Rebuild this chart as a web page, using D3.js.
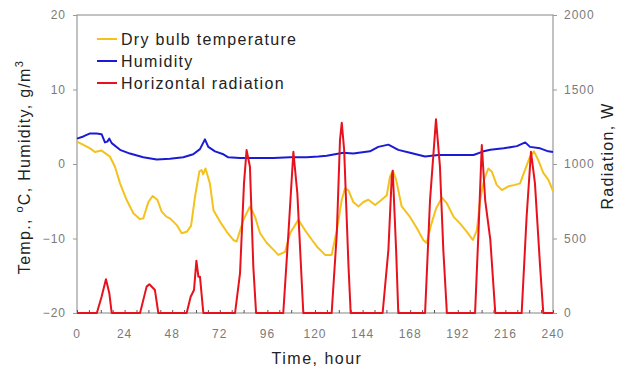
<!DOCTYPE html>
<html>
<head>
<meta charset="utf-8">
<script src="https://cdn.jsdelivr.net/npm/d3@7"></script>
<style>
  body { margin: 0; background: #fff; }
  svg { display: block; font-family: "Liberation Sans", Arial, sans-serif; }
</style>
</head>
<body>
<div id="chart"></div>
<script>
document.addEventListener('DOMContentLoaded', init, false);

const c_temp = "#f4c21c";
const c_hum = "#1b1bd6";
const c_rad = "#e8121c";

// dry bulb temperature, degC
const tempHours = [0, 3, 6.6, 9, 12.4, 14.5, 16.6, 19.2, 21.7, 25, 28.4, 31.8, 33.4, 36, 38.1, 40.5, 42.7, 45.2, 46.9, 50.3,
  52.8, 55.3, 57.5, 59.5, 61.7, 62.8, 63.6, 64.8, 67, 68.8, 72, 75.5, 78.8, 80.5, 83.9, 87.2, 89.8, 92.3, 95.7, 99,
  101.5, 104.9, 107.4, 111.6, 115, 118.5, 121, 125.1, 128.4, 131, 133.5, 135.1, 136.8, 139.3, 141.9, 144.4, 146.9, 150.3, 153.6, 156.2,
  157.8, 159.2, 160.9, 163.7, 167.9, 171.3, 174.6, 176.3, 178.5, 181, 184, 186.5, 189.9, 193.2, 196.6, 199.6, 201.6, 203.3, 205.3, 207.4,
  209.1, 211.6, 214.2, 217.5, 220.9, 223.4, 225.9, 228.4, 230.4, 232.6, 235.1, 237.6, 240];
const tempValues = [3.0, 2.6, 2.1, 1.6, 1.8, 1.4, 1.0, -0.4, -2.6, -4.8, -6.6, -7.4, -7.3, -5.1, -4.3, -4.8, -6.4, -7.1, -7.3, -8.2,
  -9.3, -9.1, -8.3, -4.4, -1.0, -0.8, -1.4, -0.6, -2.6, -6.2, -7.7, -9.1, -10.2, -10.4, -7.5, -5.7, -7.1, -9.3, -10.6, -11.5,
  -12.2, -11.8, -9.3, -7.5, -8.9, -10.2, -11.1, -12.2, -12.2, -8.9, -4.8, -3.3, -3.5, -5.1, -5.7, -5.1, -4.8, -5.5, -4.8, -4.2,
  -1.7, -0.9, -2.1, -5.7, -7.1, -8.6, -10.2, -10.6, -8.2, -6.0, -4.5, -5.3, -7.1, -8.0, -9.1, -10.2, -8.9, -4.8, -2.1, -0.6,
  -1.0, -2.8, -3.5, -3.0, -2.8, -2.6, -0.8, 1.0, 1.7, 0.5, -1.2, -2.1, -3.6];

// absolute humidity, g/m3
const humHours = [0, 3.2, 6.6, 9.9, 12.4, 14.1, 15.3, 16.3, 17.5, 21.7, 26.7, 33.4, 40.2, 46.9, 53.6, 58.6, 62, 64.5, 66.2, 69.6,
  73.8, 76.3, 82.2, 90.6, 99, 107.4, 115.8, 121.7, 125.9, 134.3, 139.3, 147.7, 151.9, 157, 162, 167.9, 175.5, 182.2, 188.2, 199.9,
  205, 208.4, 215.1, 221.8, 226, 228.4, 233.5, 237.6, 240];
const humValues = [3.4, 3.7, 4.1, 4.1, 4.0, 2.9, 3.0, 3.4, 2.8, 1.9, 1.4, 0.9, 0.6, 0.7, 0.9, 1.3, 2.0, 3.3, 2.3, 1.7,
  1.3, 0.9, 0.8, 0.8, 0.8, 0.9, 0.9, 1.0, 1.1, 1.5, 1.4, 1.7, 2.3, 2.6, 1.9, 1.5, 1.0, 1.2, 1.2, 1.2,
  1.7, 1.9, 2.1, 2.4, 2.9, 2.3, 2.1, 1.7, 1.6];

// horizontal radiation, W
const radHours = [0, 10, 12.4, 14.6, 16.3, 17.5, 31.8, 35.1, 36.5, 39.3, 41, 55.3, 57.3, 59, 60.2, 61.2, 62, 63.7,
  79.7, 82.2, 84.2, 85.5, 87.2, 88.9, 90.3, 104, 106.6, 109.1, 111.1, 114.1, 128.4, 131, 132.6, 133.5, 134.7, 136.9, 138,
  154.1, 157, 158.7, 159.2, 160.9, 162, 175.5, 178, 181, 183, 184.7, 186.5, 200.7, 202.4, 204.1, 205.8, 208.4, 210.9,
  224.2, 226.7, 228.9, 230.9, 233.5, 235.1, 240];
const radValues = [0, 0, 109, 226, 132, 0, 0, 177, 193, 154, 0, 0, 109, 154, 351, 244, 244, 0,
  0, 268, 870, 1094, 982, 311, 0, 0, 535, 1082, 803, 0, 0, 535, 1161, 1277, 1094, 311, 0,
  0, 423, 915, 955, 423, 0, 0, 758, 1300, 982, 423, 0, 0, 535, 1127, 758, 490, 0,
  0, 646, 1082, 870, 311, 0, 0];

const xTicks = [0, 24, 48, 72, 96, 120, 144, 168, 192, 216, 240];
const leftTicks = [-20, -10, 0, 10, 20];
const rightTicks = [0, 500, 1000, 1500, 2000];
const legendNames = ["Dry bulb temperature", "Humidity", "Horizontal radiation"];

function init() {
  var width = 627, height = 372;
  var margin = { top: 15, right: 74, bottom: 59, left: 77 };

  var svg = d3.select("#chart").append("svg")
    .attr("width", width)
    .attr("height", height);

  var x = d3.scaleLinear().domain([0, 240]).range([margin.left, width - margin.right]);
  var yL = d3.scaleLinear().domain([-20, 20]).range([height - margin.bottom, margin.top]);
  var yR = d3.scaleLinear().domain([0, 2000]).range([height - margin.bottom, margin.top]);

  var axisColor = "#9a9a9a";
  var labelColor = "#7a7a7a";

  // frame
  svg.append("rect")
    .attr("x", x(0)).attr("y", yL(20))
    .attr("width", x(240) - x(0)).attr("height", yL(-20) - yL(20))
    .attr("fill", "none").attr("stroke", axisColor).attr("stroke-width", 1.2);

  // bottom axis: small inward ticks every 6 h
  var gx = svg.append("g").attr("transform", "translate(0," + yL(-20) + ")")
    .call(d3.axisBottom(x).tickValues(d3.range(0, 241, 6)).tickSize(-3).tickFormat(""));
  gx.select(".domain").remove();
  gx.selectAll("line").attr("stroke", "#555");

  svg.append("g").selectAll("text")
    .data(xTicks)
    .enter().append("text")
    .attr("x", d => x(d))
    .attr("y", yL(-20) + 25)
    .attr("text-anchor", "middle")
    .attr("font-size", 12)
    .attr("letter-spacing", 1)
    .attr("fill", labelColor)
    .text(d => d);

  var gl = svg.append("g").attr("transform", "translate(" + x(0) + ",0)")
    .call(d3.axisLeft(yL).tickValues(leftTicks).tickSize(4).tickPadding(7).tickFormat(d3.format("d")));
  gl.select(".domain").remove();
  gl.selectAll("line").attr("stroke", axisColor);
  gl.selectAll("text").attr("font-size", 12).attr("fill", labelColor)
    .attr("letter-spacing", 1).attr("font-family", "Liberation Sans, Arial, sans-serif");

  var gr = svg.append("g").attr("transform", "translate(" + x(240) + ",0)")
    .call(d3.axisRight(yR).tickValues(rightTicks).tickSize(4).tickPadding(7).tickFormat(d3.format("d")));
  gr.select(".domain").remove();
  gr.selectAll("line").attr("stroke", axisColor);
  gr.selectAll("text").attr("font-size", 12).attr("fill", labelColor)
    .attr("letter-spacing", 1).attr("font-family", "Liberation Sans, Arial, sans-serif");

  // series
  var tempData = tempHours.map((h, i) => ({ h: h, v: tempValues[i] }));
  var humData = humHours.map((h, i) => ({ h: h, v: humValues[i] }));
  var radData = radHours.map((h, i) => ({ h: h, v: radValues[i] }));

  var lineL = d3.line().x(d => x(d.h)).y(d => yL(d.v));
  var lineR = d3.line().x(d => x(d.h)).y(d => yR(d.v));

  svg.append("path").datum(tempData)
    .attr("d", lineL).attr("fill", "none").attr("stroke", c_temp).attr("stroke-width", 2)
    .attr("stroke-linejoin", "round");
  svg.append("path").datum(humData)
    .attr("d", lineL).attr("fill", "none").attr("stroke", c_hum).attr("stroke-width", 2)
    .attr("stroke-linejoin", "round");
  svg.append("path").datum(radData)
    .attr("d", lineR).attr("fill", "none").attr("stroke", c_rad).attr("stroke-width", 2)
    .attr("stroke-linejoin", "round");

  // legend
  var colors = [c_temp, c_hum, c_rad];
  var legend = svg.append("g").selectAll("g")
    .data(legendNames)
    .enter().append("g")
    .attr("transform", (d, i) => "translate(97," + (39 + i * 22) + ")");
  legend.append("line")
    .attr("x1", 0).attr("x2", 20)
    .attr("stroke", (d, i) => colors[i]).attr("stroke-width", 2);
  legend.append("text")
    .attr("x", 24).attr("dy", "0.36em")
    .attr("font-size", 16).attr("letter-spacing", 1.3).attr("fill", "#222")
    .text(d => d);

  // axis titles
  svg.append("text")
    .attr("x", (x(0) + x(240)) / 2 + 2)
    .attr("y", 364)
    .attr("text-anchor", "middle")
    .attr("font-size", 16).attr("letter-spacing", 1.5).attr("fill", "#222")
    .text("Time, hour");

  var lt = svg.append("text")
    .attr("transform", "translate(30," + 167 + ") rotate(-90)")
    .attr("text-anchor", "middle")
    .attr("font-size", 16).attr("letter-spacing", 1.3).attr("fill", "#222");
  lt.append("tspan").text("Temp., ");
  lt.append("tspan").attr("font-size", 11).attr("dy", -7).text("o");
  lt.append("tspan").attr("dy", 7).text("C,  Humidity, g/m");
  lt.append("tspan").attr("font-size", 11).attr("dy", -7).text("3");

  svg.append("text")
    .attr("transform", "translate(613," + 156 + ") rotate(-90)")
    .attr("text-anchor", "middle")
    .attr("font-size", 16).attr("letter-spacing", 1.3).attr("fill", "#222")
    .text("Radiation, W");
}
</script>
</body>
</html>
